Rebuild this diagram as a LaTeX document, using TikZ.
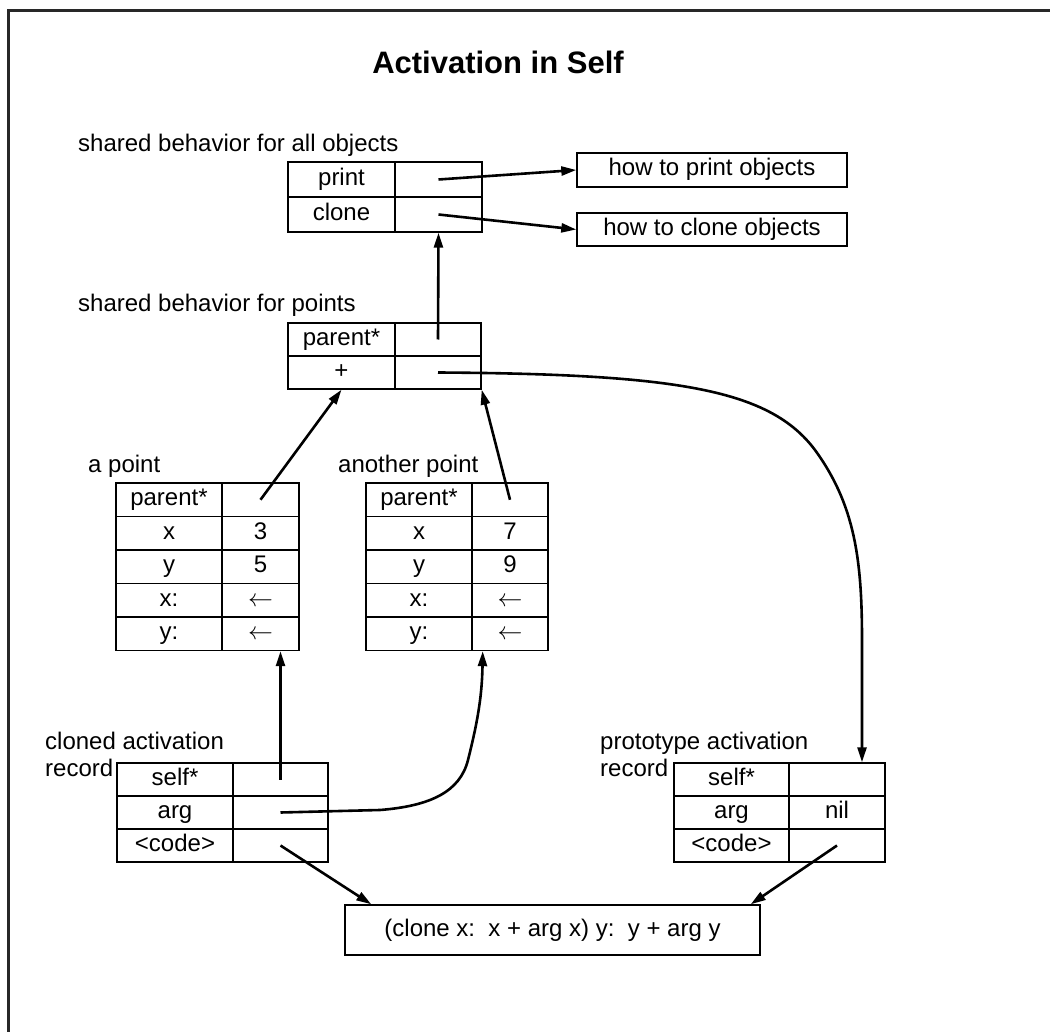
\documentclass[tikz,border=0pt]{standalone}
\usepackage{fontspec}
\setmainfont{Liberation Sans}
\usetikzlibrary{arrows.meta,calc}

\tikzset{
  txt/.style={font=\fontsize{24}{27}\selectfont},
  cell/.style={txt, draw, line width=1.4pt, inner sep=0pt, text height=17pt, text depth=5pt},
  lbl/.style={txt, inner sep=0pt, align=left},
  ptr/.style={line width=2.6pt, -{Triangle[length=15pt,width=9pt]}},
  frame/.style={line width=3pt, draw={rgb,255:red,40;green,40;blue,40}},
}

% one slot of an object: name cell (#1-k) and contents cell (#1-v)
% args: name, x-left, x-divider, x-right, y-top, y-bottom, slot name, contents
\newcommand\slotrow[8]{%
  \node[cell, minimum width={(#3-#2)*1pt}, minimum height={(#6-#5)*1pt}]
    (#1-k) at ({(#2+#3)/2},{(#5+#6)/2}) {#7};
  \node[cell, minimum width={(#4-#3)*1pt}, minimum height={(#6-#5)*1pt}]
    (#1-v) at ({(#3+#4)/2},{(#5+#6)/2}) {#8};
}

\begin{document}
\begin{tikzpicture}[x=1pt, y=-1pt]
\useasboundingbox (0,0) rectangle (1050,1032);
\fill[white] (0,0) rectangle (1050,1032);
\draw[frame] (8,1040) -- (8,11) -- (1060,11);

\node[font=\fontsize{31}{36}\selectfont\bfseries] (title) at (498,62) {Activation in Self};

% shared behavior for all objects
\node[lbl, anchor=west] (lblall) at (78,145) {shared behavior for all objects};
\slotrow{print}{288}{395}{482}{162}{197}{print}{}
\slotrow{clone}{288}{395}{482}{197}{232}{clone}{}
\node[cell, minimum width=270pt, minimum height=34pt] (howprint) at (712,170) {how to print objects};
\node[cell, minimum width=270pt, minimum height=33pt] (howclone) at (712,229.5) {how to clone objects};

% shared behavior for points
\node[lbl, anchor=west] (lblpts) at (78,305) {shared behavior for points};
\slotrow{pparent}{288}{395}{481}{323}{356}{parent*}{}
\slotrow{pplus}{288}{395}{481}{356}{389}{+}{}

% a point
\node[lbl, anchor=west] (lbla) at (88,466) {a point};
\slotrow{a1}{116}{222}{299}{483}{516.5}{parent*}{}
\slotrow{a2}{116}{222}{299}{516.5}{550}{x}{3}
\slotrow{a3}{116}{222}{299}{550}{583.5}{y}{5}
\slotrow{a4}{116}{222}{299}{583.5}{617}{x:}{$\leftarrow$}
\slotrow{a5}{116}{222}{299}{617}{650.5}{y:}{$\leftarrow$}

% another point
\node[lbl, anchor=west] (lblb) at (338,466) {another point};
\slotrow{b1}{366}{472}{548}{483}{516.5}{parent*}{}
\slotrow{b2}{366}{472}{548}{516.5}{550}{x}{7}
\slotrow{b3}{366}{472}{548}{550}{583.5}{y}{9}
\slotrow{b4}{366}{472}{548}{583.5}{617}{x:}{$\leftarrow$}
\slotrow{b5}{366}{472}{548}{617}{650.5}{y:}{$\leftarrow$}

% cloned activation record
\node[lbl, anchor=west] (lblc) at (45,754) {cloned activation\\record};
\slotrow{c1}{117}{233}{328}{763}{796}{self*}{}
\slotrow{c2}{117}{233}{328}{796}{829}{arg}{}
\slotrow{c3}{117}{233}{328}{829}{862}{<code>}{}

% prototype activation record
\node[lbl, anchor=west] (lbld) at (600,754) {prototype activation\\record};
\slotrow{d1}{674}{789}{885}{763}{796}{self*}{}
\slotrow{d2}{674}{789}{885}{796}{829}{arg}{nil}
\slotrow{d3}{674}{789}{885}{829}{862}{<code>}{}

% the method body
\node[cell, minimum width=415pt, minimum height=50pt] (code) at (552.5,930)
  {(clone x:\ \ x + arg x) y:\ \ y + arg y};

% entry points of the pointers
\coordinate (argin) at ($(b5-k.south east)+(10,0)$);
\coordinate (protin) at ($(d1-v.north)+(25,0)$);
\coordinate (codeinl) at ($(code.north west)+(27,0)$);
\coordinate (codeinr) at ($(code.north east)+(-10,0)$);

% pointers
\draw[ptr] (print-v.center) -- (howprint.west);
\draw[ptr] (clone-v.center) -- (howclone.west);
\draw[ptr] (pparent-v.center) -- (clone-v.south);
\draw[ptr] (a1-v.center) -- (pplus-k.south);
\draw[ptr] (b1-v.center) -- (pplus-v.south east);
\draw[ptr] (pplus-v.center) .. controls (680,374) and (770,390) .. (815,450)
  .. controls (855,505) and (862,560) .. (862,640) -- (protin);
\draw[ptr] (c1-v.center) -- (c1-v.center |- a5-v.south);
\draw[ptr] (c2-v.center) -- (380,810) .. controls (430,806) and (460,792) .. (468,760)
  .. controls (476,728) and (482,700) .. (argin);
\draw[ptr] (c3-v.center) -- (codeinl);
\draw[ptr] (d3-v.center) -- (codeinr);
\end{tikzpicture}
\end{document}
